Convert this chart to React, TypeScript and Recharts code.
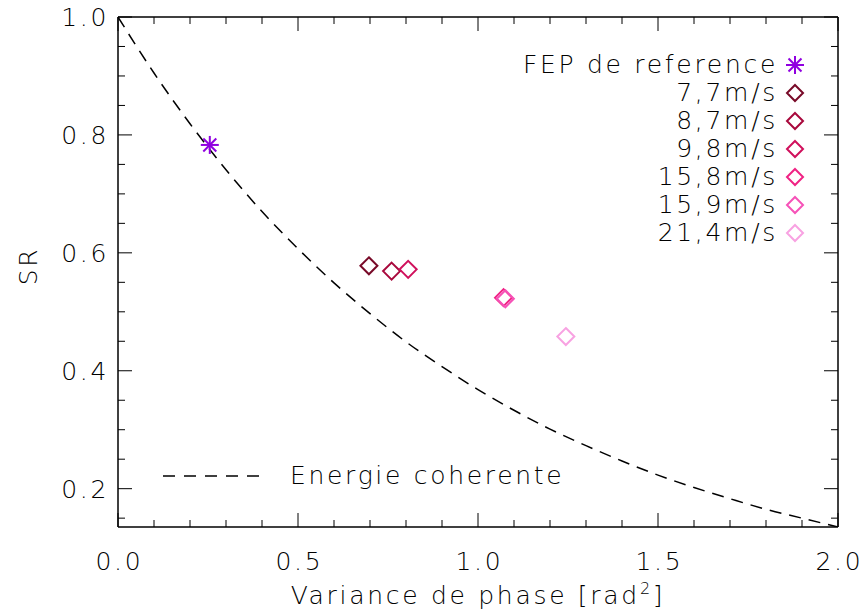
import React from "react"
import {
  ComposedChart,
  Line,
  Scatter,
  XAxis,
  YAxis,
} from "recharts"

// theoretical curve
const curveX = [0, 0.1, 0.2, 0.3, 0.4, 0.5, 0.6, 0.7, 0.8, 0.9, 1.0, 1.1, 1.2, 1.3, 1.4, 1.5, 1.6, 1.7, 1.8, 1.9, 2.0]
const curveY = [1.0, 0.905, 0.819, 0.741, 0.670, 0.607, 0.549, 0.497, 0.449, 0.407, 0.368, 0.333, 0.301, 0.273, 0.247, 0.223, 0.202, 0.183, 0.165, 0.150, 0.135]
const curveName = "Energie coherente"

const refName = "FEP de reference"
const refX = 0.255
const refY = 0.783
const refColor = "#9000e0"

const seriesNames = ["7,7m/s", "8,7m/s", "9,8m/s", "15,8m/s", "15,9m/s", "21,4m/s"]
const seriesX = [0.697, 0.76, 0.806, 1.071, 1.076, 1.244]
const seriesY = [0.578, 0.569, 0.572, 0.524, 0.522, 0.458]
const seriesColors = ["#780a28", "#a8083c", "#d0105c", "#f02284", "#f652b8", "#f8a2e2"]

const xTicks = [0, 0.1, 0.2, 0.3, 0.4, 0.5, 0.6, 0.7, 0.8, 0.9, 1.0, 1.1, 1.2, 1.3, 1.4, 1.5, 1.6, 1.7, 1.8, 1.9, 2.0]
const xMajor = [0, 0.5, 1.0, 1.5, 2.0]
const yTicks = [0.15, 0.2, 0.25, 0.3, 0.35, 0.4, 0.45, 0.5, 0.55, 0.6, 0.65, 0.7, 0.75, 0.8, 0.85, 0.9, 0.95, 1.0]
const yMajor = [0.2, 0.4, 0.6, 0.8, 1.0]

const W = 863
const H = 615
const FONT = "'DejaVu Sans', sans-serif"
const LS = 2.7

const curveData = curveX.map((x, i) => ({ x, y: curveY[i] }))

const isMajor = (list: number[], v: number) => list.some((m) => Math.abs(m - v) < 1e-6)

const textProps = {
  fontFamily: FONT,
  fontSize: 25,
  fontWeight: 200,
  letterSpacing: LS,
  fill: "#000",
}

function makeTick(side: "bottom" | "top" | "left" | "right") {
  return (props: any) => {
    const { x, y, payload } = props
    const v = payload.value as number
    const horiz = side === "bottom" || side === "top"
    const major = isMajor(horiz ? xMajor : yMajor, v)
    const len = major ? 14 : 7
    let line
    if (side === "bottom") line = <line x1={x} x2={x} y1={y} y2={y - len} stroke="#000" />
    else if (side === "top") line = <line x1={x} x2={x} y1={y} y2={y + len} stroke="#000" />
    else if (side === "left") line = <line x1={x} x2={x + len} y1={y} y2={y} stroke="#000" />
    else line = <line x1={x} x2={x - len} y1={y} y2={y} stroke="#000" />
    let label = null
    if (major && side === "bottom") {
      label = (
        <text x={x + LS / 2} y={y + 43} textAnchor="middle" {...textProps}>
          {v.toFixed(1)}
        </text>
      )
    }
    if (major && side === "left") {
      label = (
        <text x={x - 9} y={y + 9} textAnchor="end" {...textProps}>
          {v.toFixed(1)}
        </text>
      )
    }
    return (
      <g>
        {line}
        {label}
      </g>
    )
  }
}

function Diamond({ cx, cy, color, r = 8.5 }: { cx: number; cy: number; color: string; r?: number }) {
  return (
    <polygon
      points={`${cx},${cy - r} ${cx + r},${cy} ${cx},${cy + r} ${cx - r},${cy}`}
      fill="none"
      stroke={color}
      strokeWidth={2}
    />
  )
}

function Star({ cx, cy, color, r = 9 }: { cx: number; cy: number; color: string; r?: number }) {
  const d = r * 0.72
  return (
    <g stroke={color} strokeWidth={2}>
      <line x1={cx - r} x2={cx + r} y1={cy} y2={cy} />
      <line x1={cx} x2={cx} y1={cy - r} y2={cy + r} />
      <line x1={cx - d} x2={cx + d} y1={cy - d} y2={cy + d} />
      <line x1={cx - d} x2={cx + d} y1={cy + d} y2={cy - d} />
    </g>
  )
}

export default function App() {
  const frame = { stroke: "#000", strokeWidth: 1.5 }
  return (
    <div style={{ position: "absolute", left: 0, top: 0, width: W, height: H, background: "#fff" }}>
      <ComposedChart width={W} height={H} margin={{ top: 16, right: 24, left: 0, bottom: 0 }}>
        <XAxis
          xAxisId="bottom"
          type="number"
          dataKey="x"
          domain={[0, 2]}
          allowDataOverflow
          ticks={xTicks}
          interval={0}
          height={88}
          tickSize={0}
          tickMargin={0}
          tickLine={false}
          axisLine={frame}
          tick={makeTick("bottom")}
        />
        <XAxis
          xAxisId="top"
          orientation="top"
          type="number"
          dataKey="x"
          domain={[0, 2]}
          allowDataOverflow
          ticks={xTicks}
          interval={0}
          height={1}
          tickSize={0}
          tickMargin={0}
          tickLine={false}
          axisLine={frame}
          tick={makeTick("top")}
        />
        <YAxis
          yAxisId="left"
          type="number"
          domain={[0.135, 1]}
          allowDataOverflow
          ticks={yTicks}
          interval={0}
          width={118}
          tickSize={0}
          tickMargin={0}
          tickLine={false}
          axisLine={frame}
          tick={makeTick("left")}
        />
        <YAxis
          yAxisId="right"
          orientation="right"
          type="number"
          domain={[0.135, 1]}
          allowDataOverflow
          ticks={yTicks}
          interval={0}
          width={1}
          tickSize={0}
          tickMargin={0}
          tickLine={false}
          axisLine={frame}
          tick={makeTick("right")}
        />
        {/* invisible series so the mirrored frame axes get drawn */}
        <Line
          xAxisId="top"
          yAxisId="right"
          data={curveData}
          dataKey="y"
          stroke="none"
          dot={false}
          activeDot={false}
          legendType="none"
          isAnimationActive={false}
        />
        <Line
          xAxisId="bottom"
          yAxisId="left"
          data={curveData}
          dataKey="y"
          type="monotone"
          stroke="#000"
          strokeWidth={1.5}
          strokeDasharray="12 8"
          dot={false}
          activeDot={false}
          isAnimationActive={false}
        />
        {seriesNames.map((name, i) => (
          <Scatter
            key={name}
            name={name}
            xAxisId="bottom"
            yAxisId="left"
            data={[{ x: seriesX[i], y: seriesY[i] }]}
            dataKey="y"
            isAnimationActive={false}
            shape={(p: any) => <Diamond cx={p.cx} cy={p.cy} color={seriesColors[i]} />}
          />
        ))}
        <Scatter
          name={refName}
          xAxisId="bottom"
          yAxisId="left"
          data={[{ x: refX, y: refY }]}
          dataKey="y"
          isAnimationActive={false}
          shape={(p: any) => <Star cx={p.cx} cy={p.cy} color={refColor} />}
        />
      </ComposedChart>
      <svg width={W} height={H} style={{ position: "absolute", left: 0, top: 0, pointerEvents: "none" }}>
        {/* legend top right */}
        <text x={778} y={73} textAnchor="end" {...textProps}>{refName}</text>
        <Star cx={795} cy={65} color={refColor} />
        {seriesNames.map((name, i) => (
          <g key={name}>
            <text x={778} y={101 + i * 28} textAnchor="end" {...textProps}>{name}</text>
            <Diamond cx={795} cy={93 + i * 28} color={seriesColors[i]} r={8} />
          </g>
        ))}
        {/* curve legend */}
        <line x1={163} x2={262} y1={476} y2={476} stroke="#000" strokeWidth={1.5} strokeDasharray="12 9" />
        <text x={290} y={484} {...textProps}>{curveName}</text>
        {/* axis titles */}
        <text x={478} y={604} textAnchor="middle" {...textProps}>
          Variance de phase [rad<tspan dy={-10} fontSize={16}>2</tspan><tspan dy={10}>]</tspan>
        </text>
        <text x={37} y={266} textAnchor="middle" transform="rotate(-90 37 266)" {...textProps}>SR</text>
      </svg>
    </div>
  )
}
